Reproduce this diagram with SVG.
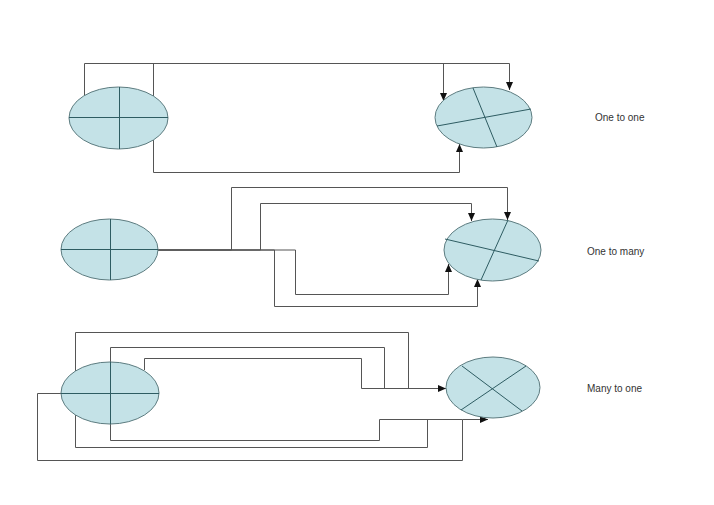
<svg xmlns="http://www.w3.org/2000/svg" width="714" height="505" viewBox="0 0 714 505">
<defs>
<marker id="arr" markerWidth="8" markerHeight="7" refX="8" refY="3.5" orient="auto" markerUnits="userSpaceOnUse">
<path d="M0,0 L8,3.5 L0,7 z" fill="#111"/>
</marker>
<style>
.conn{fill:none;stroke:#555;stroke-width:1}
.arrow{marker-end:url(#arr)}
.node ellipse{fill:#c4e2e7;stroke:#5d7c80;stroke-width:1}
.node line{stroke:#2e5c62;stroke-width:1}
.lbl{font-family:"Liberation Sans",Arial,sans-serif;font-size:10px;fill:#333}
</style>
</defs>
<rect width="714" height="505" fill="#fff"/>
<g id="connectors">
<!-- one to one -->
<path class="conn arrow" d="M84.5,95 V63.5 H509.5 V90"/>
<path class="conn arrow" d="M153.5,96 V63.5 H443.5 V101"/>
<path class="conn arrow" d="M153.5,140 V172.5 H459.5 V144"/>
<!-- one to many -->
<path class="conn arrow" d="M158,250 H231.5 V187.5 H507.5 V220"/>
<path class="conn arrow" d="M158,250 H260.5 V203.5 H471.5 V221"/>
<path class="conn arrow" d="M158,250 H295.5 V294.5 H448.5 V264"/>
<path class="conn arrow" d="M158,250 H274.5 V306.5 H477.5 V279"/>
<!-- many to one -->
<path class="conn" d="M75.5,371 V332.5 H408.5 V388.5"/>
<path class="conn" d="M110.5,362 V347.5 H384.5 V388.5"/>
<path class="conn arrow" d="M144.5,370 V358.5 H361.5 V388.5 H446"/>
<path class="conn" d="M75.5,415 V447.5 H427.5 V419.5"/>
<path class="conn" d="M110.5,424 V440.5 H379.5 V419.5"/>
<path class="conn arrow" d="M61,393.5 H37.5 V460.5 H462.5 V419.5 H488"/>
<path class="conn" d="M379.5,419.5 H462.5"/>
</g>
<g id="n1-left" class="node">
<ellipse cx="118.5" cy="118" rx="49.5" ry="31"/>
<line x1="119.5" y1="87" x2="119.5" y2="149"/>
<line x1="69" y1="117.5" x2="168" y2="117.5"/>
</g>
<g id="n1-right" class="node">
<ellipse cx="483.5" cy="117.5" rx="48.5" ry="30.5"/>
<line x1="473" y1="88" x2="497" y2="147"/>
<line x1="437" y1="126" x2="531" y2="109"/>
</g>
<g id="n2-left" class="node">
<ellipse cx="109.5" cy="249.5" rx="48.5" ry="30.5"/>
<line x1="110.5" y1="219" x2="110.5" y2="280"/>
<line x1="61" y1="249.5" x2="158" y2="249.5"/>
</g>
<g id="n2-right" class="node">
<ellipse cx="492.5" cy="250" rx="48.5" ry="31"/>
<line x1="508" y1="220" x2="481" y2="280"/>
<line x1="445" y1="239" x2="539" y2="261"/>
</g>
<g id="n3-left" class="node">
<ellipse cx="110" cy="393" rx="49" ry="31"/>
<line x1="110.5" y1="362" x2="110.5" y2="424"/>
<line x1="61" y1="393.5" x2="159" y2="393.5"/>
</g>
<g id="n3-right" class="node">
<ellipse cx="493" cy="387.5" rx="47" ry="30.5"/>
<line x1="462" y1="366" x2="522" y2="411"/>
<line x1="461" y1="410" x2="526" y2="366"/>
</g>
<g id="labels">
<text class="lbl" x="595" y="121">One to one</text>
<text class="lbl" x="587" y="255">One to many</text>
<text class="lbl" x="587" y="392">Many to one</text>
</g>
</svg>
